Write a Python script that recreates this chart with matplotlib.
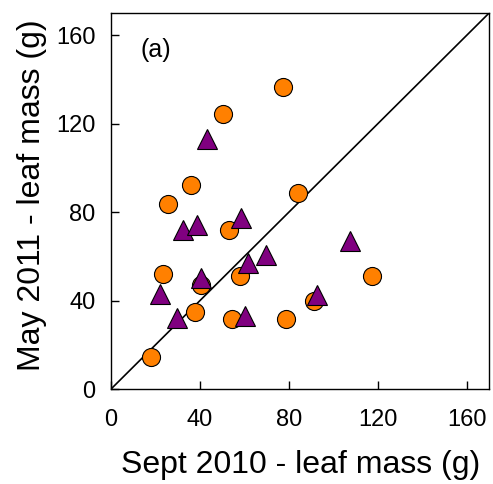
import numpy as np
import matplotlib
matplotlib.use('Agg')
import matplotlib.pyplot as plt

plt.rcParams['font.family'] = ['Liberation Sans', 'DejaVu Sans']

# orange circles: Sept 2010 vs May 2011 leaf mass (g)
circ_x = [17.8, 23.4, 25.8, 36.0, 77.4, 50.3, 83.9, 53.2, 58.0, 40.4, 37.8, 54.5, 78.5, 91.2, 117.5]
circ_y = [14.6, 51.9, 83.8, 92.4, 136.5, 124.5, 88.8, 71.8, 51.2, 47.3, 34.9, 31.5, 31.7, 39.9, 51.0]

# purple triangles
tri_x = [43.3, 32.5, 38.5, 58.6, 107.7, 69.5, 61.6, 40.4, 22.2, 29.5, 60.5, 92.7]
tri_y = [112.9, 72.1, 74.3, 77.5, 67.0, 60.8, 57.0, 50.4, 43.2, 32.2, 33.0, 42.7]

ticks = [0, 40, 80, 120, 160]
lim = 170

fig = plt.figure(figsize=(4.93, 4.84), dpi=100)
ax = fig.add_axes([0.225, 0.196, 0.767, 0.777])

ax.plot([0, lim], [0, lim], color='k', linewidth=1.2, zorder=1)
ax.plot(circ_x, circ_y, 'o', markersize=13, markerfacecolor='#ff8000',
        markeredgecolor='k', markeredgewidth=0.8, linestyle='none', zorder=2)
ax.plot(tri_x, tri_y, '^', markersize=14, markerfacecolor='#800080',
        markeredgecolor='k', markeredgewidth=0.8, linestyle='none', zorder=3)

ax.set_xlim(0, lim)
ax.set_ylim(0, lim)
ax.set_xticks(ticks)
ax.set_yticks(ticks)
ax.tick_params(direction='in', length=6, width=1, labelsize=17)
ax.tick_params(axis='x', pad=14)
ax.tick_params(axis='y', pad=11)
for s in ax.spines.values():
    s.set_linewidth(1)

ax.set_xlabel('Sept 2010 - leaf mass (g)', fontsize=23)
ax.set_ylabel('May 2011 - leaf mass (g)', fontsize=23)
ax.xaxis.set_label_coords(0.502, -0.162)
ax.yaxis.set_label_coords(-0.168, 0.515)
ax.text(0.077, 0.902, '(a)', transform=ax.transAxes, fontsize=18,
        ha='left', va='center')

fig.savefig('out.png', dpi=100)
